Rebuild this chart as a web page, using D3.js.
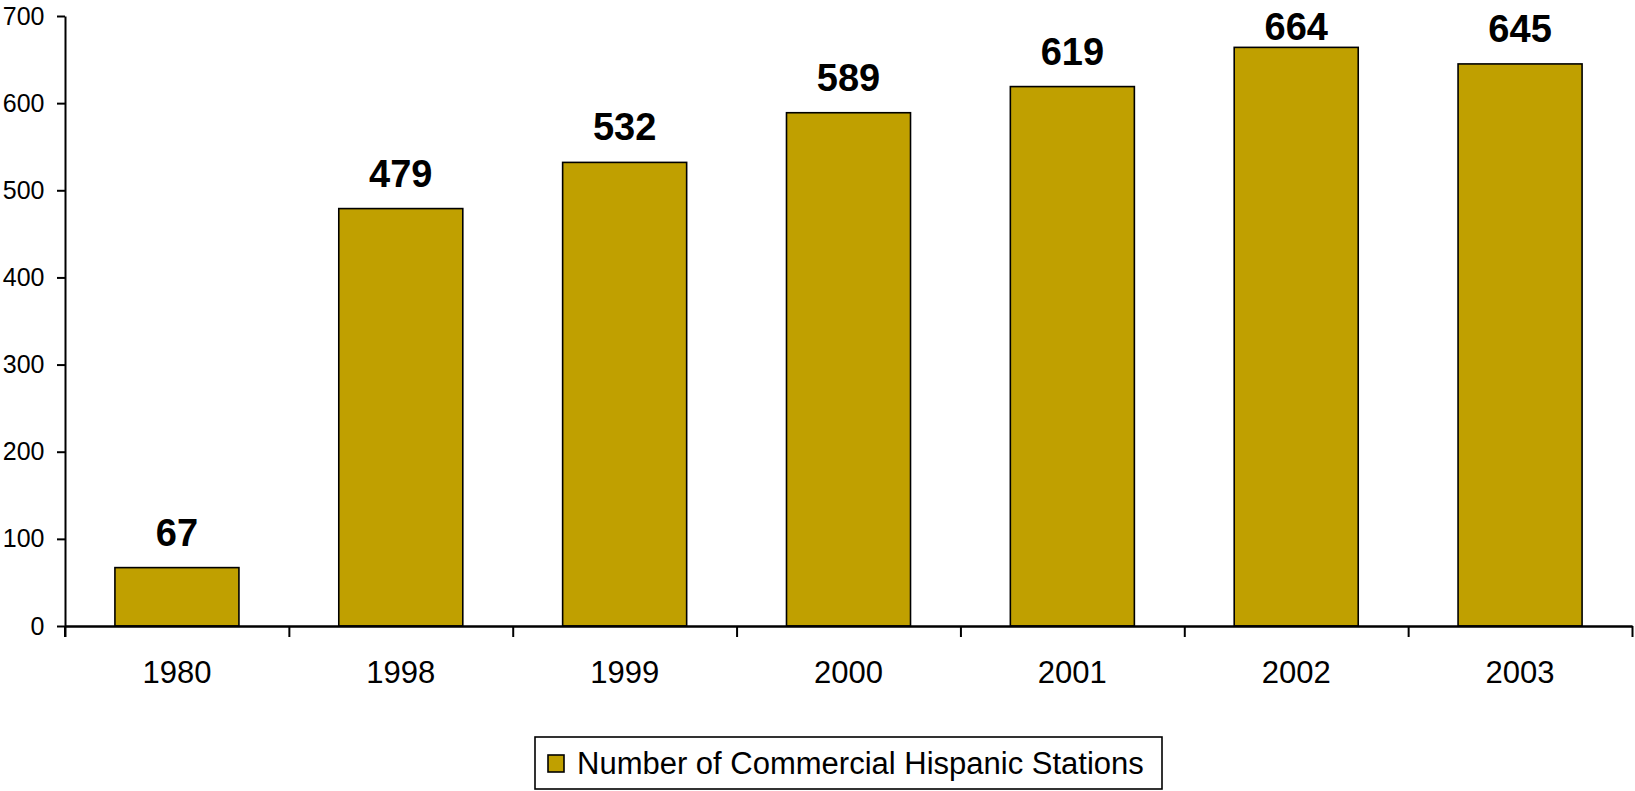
<!DOCTYPE html>
<html>
<head>
<meta charset="utf-8">
<script src="https://cdn.jsdelivr.net/npm/d3@7/dist/d3.min.js"></script>
<style>
  html, body { margin: 0; padding: 0; background: #fff; }
  svg { display: block; font-family: "Liberation Sans", Arial, sans-serif; }
</style>
</head>
<body>
<svg id="chart" width="1635" height="791"></svg>
<script>
const categories = ["1980", "1998", "1999", "2000", "2001", "2002", "2003"];
const values = [67, 479, 532, 589, 619, 664, 645];
const yTicks = [0, 100, 200, 300, 400, 500, 600, 700];
const seriesName = "Number of Commercial Hispanic Stations";

(function () {
const svg = d3.select("#chart");
const plotLeft = 65, plotRight = 1632, plotTop = 16, plotBottom = 626;
const barColor = "#c0a000";
const fontFam = "'Liberation Sans', Arial, sans-serif";

const x = d3.scaleBand().domain(categories).range([plotLeft, plotRight])
  .paddingInner(0.446).paddingOuter(0.223);
const y = d3.scaleLinear().domain([0, 700]).range([plotBottom, plotTop]);

// bars
svg.append("g").selectAll("rect").data(values).join("rect")
  .attr("x", (d, i) => x(categories[i]))
  .attr("y", d => y(d))
  .attr("width", x.bandwidth())
  .attr("height", d => y(0) - y(d))
  .attr("fill", barColor)
  .attr("stroke", "#000")
  .attr("stroke-width", 1.6);

// data labels
svg.append("g").selectAll("text").data(values).join("text")
  .attr("x", (d, i) => x(categories[i]) + x.bandwidth() / 2)
  .attr("y", d => Math.max(y(d) - 22, 40))
  .attr("text-anchor", "middle")
  .attr("font-size", 38)
  .attr("font-weight", "bold")
  .attr("fill", "#000")
  .text(d => d);

// y axis
const yAxis = svg.append("g").attr("transform", `translate(${plotLeft},0)`)
  .call(d3.axisLeft(y).tickValues(yTicks).tickSize(8).tickSizeOuter(0).tickPadding(12.5));
yAxis.selectAll("text").attr("font-size", 25).attr("fill", "#000").style("font-family", fontFam);
yAxis.selectAll("line, path").attr("stroke", "#000").attr("stroke-width", 2);
svg.append("line").attr("x1", plotLeft).attr("x2", plotLeft).attr("y1", plotBottom).attr("y2", plotBottom + 11)
  .attr("stroke", "#000").attr("stroke-width", 2);

// x axis labels
const xAxis = svg.append("g").attr("transform", `translate(0,${plotBottom})`)
  .call(d3.axisBottom(x).tickSize(0).tickSizeOuter(0).tickPadding(35));
xAxis.selectAll("text").attr("font-size", 31).attr("fill", "#000").style("font-family", fontFam);
xAxis.select(".domain").attr("stroke", "#000").attr("stroke-width", 2);

// category boundary ticks
const xb = d3.scaleLinear().domain([0, categories.length]).range([plotLeft, plotRight]);
const xTickAxis = svg.append("g").attr("transform", `translate(0,${plotBottom})`)
  .call(d3.axisBottom(xb).ticks(categories.length).tickFormat("").tickSize(11).tickSizeOuter(0));
xTickAxis.selectAll("line").attr("stroke", "#000").attr("stroke-width", 2);
xTickAxis.select(".domain").attr("stroke", "#000").attr("stroke-width", 2);

// legend
const lg = svg.append("g");
lg.append("rect").attr("x", 535).attr("y", 737).attr("width", 627).attr("height", 52)
  .attr("fill", "#fff").attr("stroke", "#000").attr("stroke-width", 1.6);
lg.append("rect").attr("x", 548).attr("y", 755).attr("width", 16).attr("height", 17)
  .attr("fill", barColor).attr("stroke", "#000").attr("stroke-width", 1.6);
lg.append("text").attr("x", 577).attr("y", 774).attr("font-size", 31).attr("fill", "#000")
  .style("font-family", fontFam)
  .text(seriesName);
})();
</script>
</body>
</html>
